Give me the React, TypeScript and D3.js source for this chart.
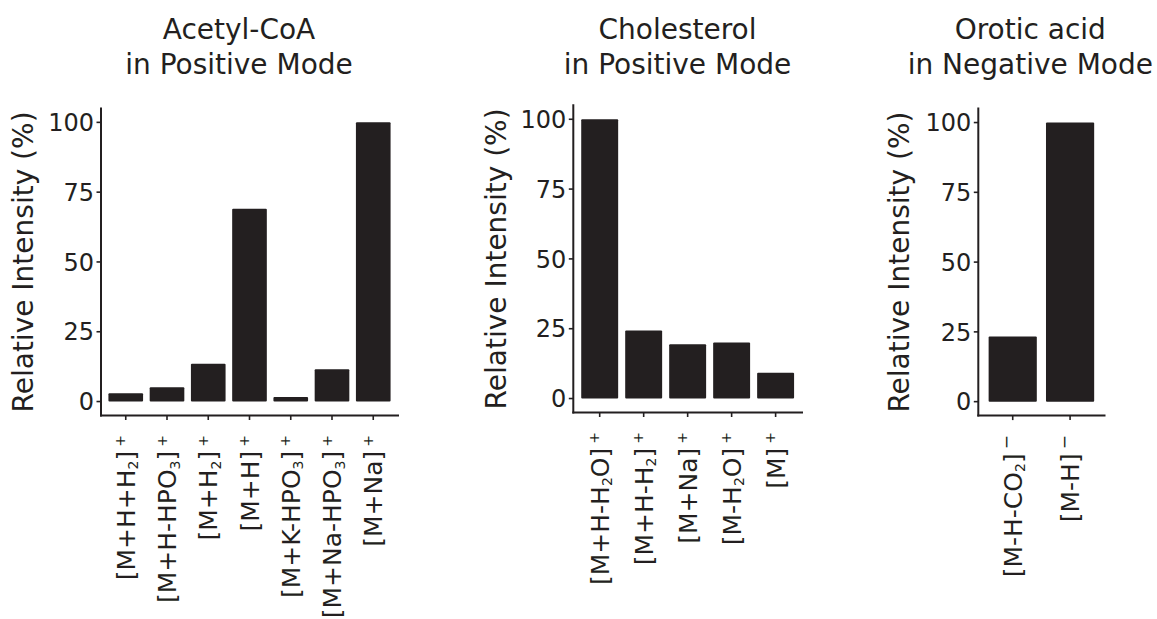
import React from "react";
import * as d3 from "d3";

// Ion labels use a small markup: "_x" = subscript character, "^x" = superscript character
const acetylIons = ["[M+H+H_2]^+", "[M+H-HPO_3]^+", "[M+H_2]^+", "[M+H]^+", "[M+K-HPO_3]^+", "[M+Na-HPO_3]^+", "[M+Na]^+"];
const acetylValues = [3.0, 5.1, 13.5, 69.1, 1.6, 11.6, 100];

const cholIons = ["[M+H-H_2O]^+", "[M+H-H_2]^+", "[M+Na]^+", "[M-H_2O]^+", "[M]^+"];
const cholValues = [100, 24.4, 19.4, 20.1, 9.2];

const oroticIons = ["[M-H-CO_2]^\u2212", "[M-H]^\u2212"];
const oroticValues = [23.3, 100];

const yTicks = [0, 25, 50, 75, 100];

const INK = "#231f20";
const FONT = "'DejaVu Sans', 'Liberation Sans', sans-serif";

type Seg = { text: string; kind: "n" | "sub" | "sup" };

function parseLabel(s: string): Seg[] {
  const out: Seg[] = [];
  let buf = "";
  for (let i = 0; i < s.length; i++) {
    const c = s[i];
    if ((c === "_" || c === "^") && i + 1 < s.length) {
      if (buf) out.push({ text: buf, kind: "n" });
      buf = "";
      out.push({ text: s[i + 1], kind: c === "_" ? "sub" : "sup" });
      i++;
    } else buf += c;
  }
  if (buf) out.push({ text: buf, kind: "n" });
  return out;
}

function IonLabel({ label }: { label: string }) {
  const segs = parseLabel(label);
  const nodes: React.ReactNode[] = [];
  let shift = 0;
  segs.forEach((sg, i) => {
    if (sg.kind === "n") {
      nodes.push(
        <tspan key={i} dy={-shift}>{sg.text}</tspan>
      );
      shift = 0;
    } else if (sg.kind === "sub") {
      nodes.push(
        <tspan key={i} dy={3.5 - shift} fontSize={14}>{sg.text}</tspan>
      );
      shift = 3.5;
    } else {
      const neg = sg.text === "\u2212";
      nodes.push(
        <tspan key={i} dx={4} dy={-9.5 - shift} fontSize={neg ? 17 : 14}>{sg.text}</tspan>
      );
      shift = -9.5;
    }
  });
  return <>{nodes}</>;
}

type PanelProps = {
  title: string[];
  titleX: number;
  ions: string[];
  values: number[];
  x0: number;
  x1: number;
  yTop: number;
  yBottom: number;
  yLabelX: number;
};

function Panel({ title, titleX, ions, values, x0, x1, yTop, yBottom, yLabelX }: PanelProps) {
  const x = d3.scaleBand<string>().domain(ions).range([x0, x1]).paddingInner(0.16).paddingOuter(0.18);
  const y = d3.scaleLinear().domain([-5, 105]).range([yBottom, yTop]);
  const y0 = y(0);
  return (
    <g>
      {title.map((t, i) => (
        <text key={i} x={titleX} y={38.5 + i * 35} textAnchor="middle" fontSize={28} fill={INK} fontFamily={FONT}>
          {t}
        </text>
      ))}
      {ions.map((ion, i) => (
        <rect
          key={ion}
          x={x(ion)!}
          width={x.bandwidth()}
          y={y(values[i])}
          height={y0 - y(values[i])}
          fill={INK}
          rx={1}
        />
      ))}
      {/* axes */}
      <line x1={x0} x2={x0} y1={yTop} y2={yBottom} stroke={INK} strokeWidth={2} strokeLinecap="square" />
      <line x1={x0} x2={x1} y1={yBottom} y2={yBottom} stroke={INK} strokeWidth={2} strokeLinecap="square" />
      {yTicks.map((t) => (
        <g key={t}>
          <line x1={x0 - 4.5} x2={x0} y1={y(t)} y2={y(t)} stroke={INK} strokeWidth={1.6} />
          <text x={x0 - 7} y={y(t) + 8.7} textAnchor="end" fontSize={24} fill={INK} fontFamily={FONT}>
            {t}
          </text>
        </g>
      ))}
      {ions.map((ion) => {
        const cx = x(ion)! + x.bandwidth() / 2;
        return (
          <g key={ion}>
            <line x1={cx} x2={cx} y1={yBottom} y2={yBottom + 4.5} stroke={INK} strokeWidth={1.6} />
            <text
              transform={`translate(${cx + 9},${yBottom + 19.5}) rotate(-90)`}
              textAnchor="end"
              fontSize={25}
              fill={INK}
              fontFamily={FONT}
            >
              <IonLabel label={ion} />
            </text>
          </g>
        );
      })}
      <text
        transform={`translate(${yLabelX},${(yTop + yBottom) / 2}) rotate(-90)`}
        textAnchor="middle"
        fontSize={28}
        fill={INK}
        fontFamily={FONT}
      >
        Relative Intensity (%)
      </text>
    </g>
  );
}

export default function App() {
  return (
    <svg
      width={1157}
      height={619}
      viewBox="0 0 1157 619"
      style={{ position: "absolute", left: 0, top: 0, display: "block", background: "#fff" }}
    >
      <rect width={1157} height={619} fill="#fff" />
      <Panel
        title={["Acetyl-CoA", "in Positive Mode"]}
        titleX={239}
        ions={acetylIons}
        values={acetylValues}
        x0={101}
        x1={398}
        yTop={108.4}
        yBottom={415.5}
        yLabelX={33}
      />
      <Panel
        title={["Cholesterol", "in Positive Mode"]}
        titleX={677.5}
        ions={cholIons}
        values={cholValues}
        x0={573.3}
        x1={802}
        yTop={105.3}
        yBottom={412.5}
        yLabelX={506}
      />
      <Panel
        title={["Orotic acid", "in Negative Mode"]}
        titleX={1030.3}
        ions={oroticIons}
        values={oroticValues}
        x0={978.3}
        x1={1104.5}
        yTop={108.6}
        yBottom={415.6}
        yLabelX={909}
      />
    </svg>
  );
}
